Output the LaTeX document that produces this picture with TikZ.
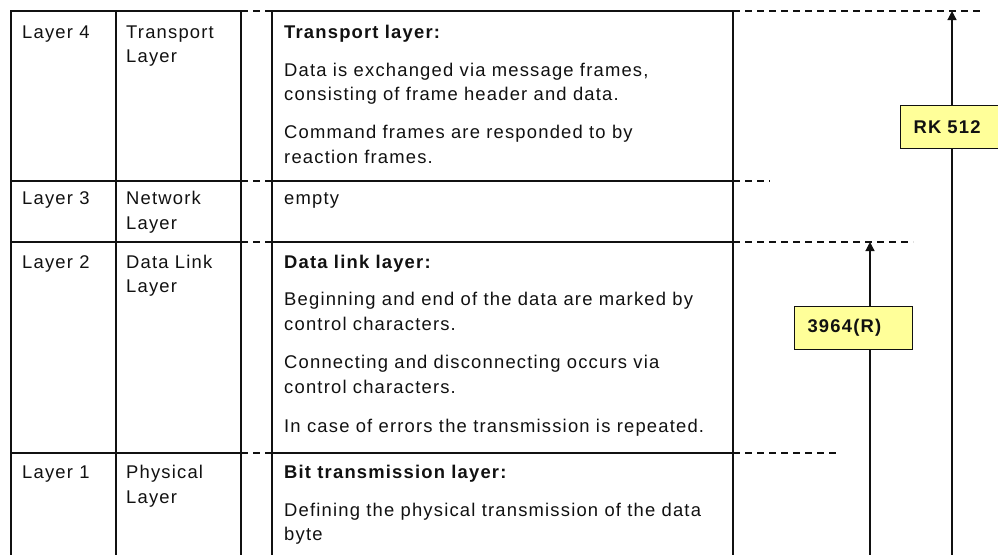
\documentclass[tikz,border=0pt]{standalone}
\usepackage{fontspec}
\setmainfont{Liberation Sans}[LetterSpace=6.5]
\usetikzlibrary{arrows.meta}
\definecolor{boxyellow}{HTML}{FFFF99}
\definecolor{inkc}{HTML}{111111}
\newcommand{\basefnt}{\fontsize{18.4}{24}\selectfont}
\tikzset{
  grid/.style={line width=1.2pt, draw=inkc},
  dashline/.style={line width=1.1pt, draw=inkc, dash pattern=on 7pt off 5pt},
  txt/.style={anchor=base west, inner sep=0pt, text=inkc, font=\basefnt},
  btxt/.style={txt, font=\basefnt\bfseries},
  lbl/.style={draw=inkc, line width=1.1pt, fill=boxyellow, text=inkc, font=\basefnt\bfseries,
              text width=92pt, inner xsep=13pt, inner ysep=0pt, align=left,
              minimum height=43pt, anchor=north west},
  conn/.style={line width=1.2pt, draw=inkc},
  connarrow/.style={conn, -{Triangle[length=9pt,width=9pt]}}
}
\begin{document}
\begin{tikzpicture}[x=1pt,y=-1pt]
\useasboundingbox (0,0) rectangle (998,554);
\fill[white] (0,0) rectangle (998,554);
% left table
\draw[grid] (11,570) -- (11,11) -- (241,11) -- (241,570);
\draw[grid] (116,11) -- (116,570);
\draw[grid] (11,181) -- (241,181);
\draw[grid] (11,242) -- (241,242);
\draw[grid] (11,453) -- (241,453);
% right description box
\draw[grid] (272,570) -- (272,11) -- (733,11) -- (733,570);
\draw[grid] (272,181) -- (733,181);
\draw[grid] (272,242) -- (733,242);
\draw[grid] (272,453) -- (733,453);
% dashed links between the tables
\draw[dashline] (241,11) -- (272,11);
\draw[dashline] (241,181) -- (272,181);
\draw[dashline] (241,242) -- (272,242);
\draw[dashline] (241,453) -- (272,453);
% dashed extensions on the right
\draw[dashline] (733,11) -- (982,11);
\draw[dashline] (733,181) -- (770,181);
\draw[dashline] (733,242) -- (913,242);
\draw[dashline] (733,453) -- (840,453);
% left column texts
\node[txt] (l4) at (22,38) {Layer 4};
\node[txt] (n4a) at (126,38) {Transport};
\node[txt] (n4b) at (126,62) {Layer};
\node[txt] (l3) at (22,204) {Layer 3};
\node[txt] (n3a) at (126,204) {Network};
\node[txt] (n3b) at (126,229) {Layer};
\node[txt] (l2) at (22,268) {Layer 2};
\node[txt] (n2a) at (126,268) {Data Link};
\node[txt] (n2b) at (126,292) {Layer};
\node[txt] (l1) at (22,478) {Layer 1};
\node[txt] (n1a) at (126,478) {Physical};
\node[txt] (n1b) at (126,503) {Layer};
% descriptions
\node[btxt] (d4h) at (284,38) {Transport layer:};
\node[txt] (d4a) at (284,76) {Data is exchanged via message frames,};
\node[txt] (d4b) at (284,100) {consisting of frame header and data.};
\node[txt] (d4c) at (284,138) {Command frames are responded to by};
\node[txt] (d4d) at (284,163) {reaction frames.};
\node[txt] (d3a) at (284,204) {empty};
\node[btxt] (d2h) at (284,268) {Data link layer:};
\node[txt] (d2a) at (284,305) {Beginning and end of the data are marked by};
\node[txt] (d2b) at (284,330) {control characters.};
\node[txt] (d2c) at (284,368) {Connecting and disconnecting occurs via};
\node[txt] (d2d) at (284,393) {control characters.};
\node[txt] (d2e) at (284,432) {In case of errors the transmission is repeated.};
\node[btxt] (d1h) at (284,478) {Bit transmission layer:};
\node[txt] (d1a) at (284,516) {Defining the physical transmission of the data};
\node[txt] (d1b) at (284,540) {byte};
% protocol labels and arrows
\coordinate (rkbot) at (952,560);
\coordinate (rktop) at (952,11);
\coordinate (r3bot) at (870,560);
\coordinate (r3top) at (870,242);
\node[lbl] (rk) at (900,105) {RK 512};
\node[lbl] (r3) at (794,306) {3964(R)};
\draw[conn] (rkbot) -- (rkbot |- rk.south);
\draw[connarrow] (rktop |- rk.north) -- (rktop);
\draw[conn] (r3bot) -- (r3bot |- r3.south);
\draw[connarrow] (r3top |- r3.north) -- (r3top);
\end{tikzpicture}
\end{document}
